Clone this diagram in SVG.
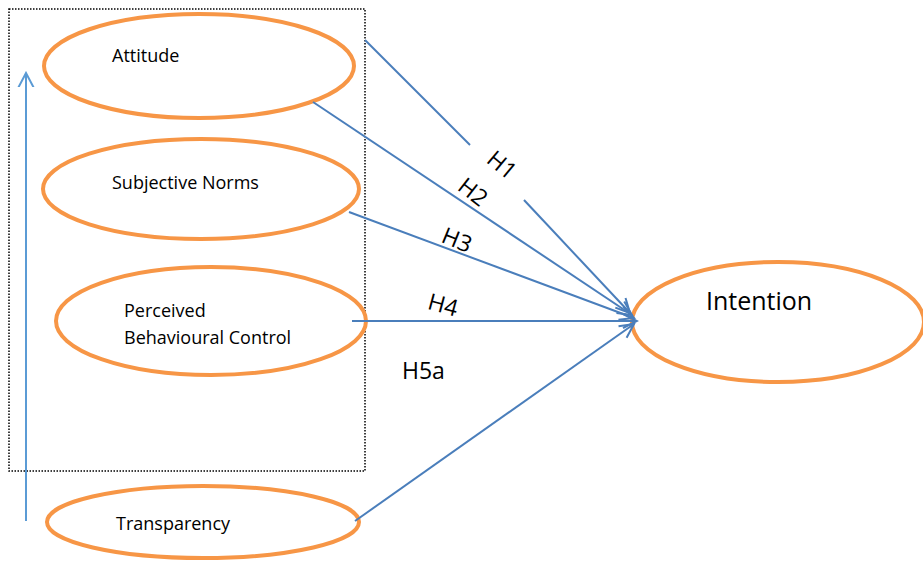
<svg xmlns="http://www.w3.org/2000/svg" width="923" height="562" viewBox="0 0 923 562">
<style>
.node ellipse{fill:#fff;stroke:#f79646;stroke-width:4}
.lbl{font-family:"Open Sans","Liberation Sans",sans-serif;font-size:18px;fill:#000}
.big{font-family:"Open Sans","Liberation Sans",sans-serif;font-size:25px;fill:#000}
.h{font-family:"Open Sans","Liberation Sans",sans-serif;font-size:23px;fill:#000}
.edge{stroke:#4a7ebb;stroke-width:2;fill:none}
</style>
<defs>
<marker id="arr" viewBox="-16 -9 18 18" refX="0" refY="0" markerWidth="18" markerHeight="18" markerUnits="userSpaceOnUse" orient="auto">
<path d="M-14,-7 L0,0 L-14,7" fill="none" stroke="#4a7ebb" stroke-width="2"/>
</marker>
<marker id="arr2" viewBox="-14 -12 16 24" refX="0" refY="0" markerWidth="16" markerHeight="24" markerUnits="userSpaceOnUse" orient="auto">
<path d="M-19,-10 L0,0 L-19,10" fill="none" stroke="#5b9bd5" stroke-width="2"/>
</marker>
</defs>
<rect x="0" y="0" width="923" height="562" fill="#fff"/>
<rect x="9" y="9" width="356" height="462" fill="none" stroke="#000" stroke-width="1.5" stroke-dasharray="1.5 1.5"/>
<g id="attitude" class="node"><ellipse cx="199" cy="66" rx="155" ry="52"/><text class="lbl" x="112" y="62">Attitude</text></g>
<g id="subjective-norms" class="node"><ellipse cx="201" cy="189" rx="158" ry="50"/><text class="lbl" x="112" y="189">Subjective Norms</text></g>
<g id="pbc" class="node"><ellipse cx="211" cy="321" rx="155" ry="54"/><text class="lbl" x="124" y="317">Perceived</text><text class="lbl" x="124" y="344">Behavioural Control</text></g>
<g id="transparency" class="node"><ellipse cx="203" cy="522" rx="156" ry="36"/><text class="lbl" x="116" y="530">Transparency</text></g>
<g id="intention" class="node"><ellipse cx="778" cy="322" rx="146" ry="60"/><text class="big" x="706" y="310">Intention</text></g>
<g id="connectors">
<line class="edge" x1="365" y1="40" x2="470" y2="145"/>
<line class="edge" x1="524" y1="200" x2="630" y2="313" marker-end="url(#arr)"/>
<line class="edge" x1="313" y1="102" x2="632" y2="315" marker-end="url(#arr)"/>
<line class="edge" x1="349" y1="212" x2="634" y2="318" marker-end="url(#arr)"/>
<line class="edge" x1="352" y1="321" x2="637" y2="321" marker-end="url(#arr)"/>
<line class="edge" x1="355" y1="521" x2="634" y2="324" marker-end="url(#arr)"/>
<line x1="26" y1="521" x2="26" y2="73" stroke="#5b9bd5" stroke-width="2" marker-end="url(#arr2)"/>
</g>
<g id="labels">
<text class="h" transform="translate(502,165) rotate(40)" text-anchor="middle" dy="8">H1</text>
<text class="h" transform="translate(473,192) rotate(38)" text-anchor="middle" dy="8">H2</text>
<text class="h" transform="translate(457,240) rotate(22)" text-anchor="middle" dy="8">H3</text>
<text class="h" transform="translate(443,305) rotate(15)" text-anchor="middle" dy="8">H4</text>
<text class="h" x="402" y="379">H5a</text>
</g>
</svg>
